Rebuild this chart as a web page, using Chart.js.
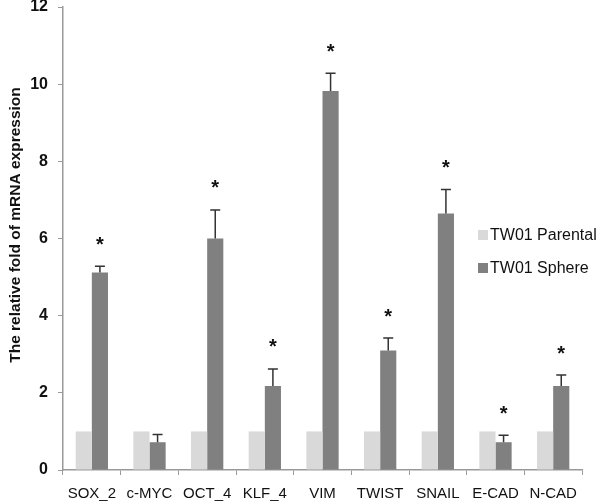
<!DOCTYPE html>
<html><head><meta charset="utf-8">
<script src="https://cdn.jsdelivr.net/npm/chart.js@4/dist/chart.umd.min.js"></script>
<style>html,body{margin:0;padding:0;background:#fff}#wrap{width:600px;height:504px}</style>
</head><body><div id="wrap"><canvas id="c" width="600" height="504"></canvas></div>
<script>
const categories = ["SOX_2","c-MYC","OCT_4","KLF_4","VIM","TWIST","SNAIL","E-CAD","N-CAD"];
const parental = [1,1,1,1,1,1,1,1,1];
const sphere = [5.12,0.72,6.0,2.18,9.82,3.1,6.65,0.72,2.18];
const sphereErrTop = [5.28,0.92,6.74,2.62,10.28,3.42,7.27,0.9,2.46];
const significant = [true,false,true,true,true,true,true,true,true];
const yTicks = [0,2,4,6,8,10,12];
const seriesNames = ["TW01 Parental","TW01 Sphere"];
const yTitle = "The relative fold of mRNA expression";
const FONT = "'Liberation Sans', Arial, sans-serif";

const extras = {
  id:'extras',
  afterDatasetsDraw(chart){
    const ctx = chart.ctx, y = chart.scales.y;
    const meta = chart.getDatasetMeta(1);
    ctx.save();
    meta.data.forEach((bar,i)=>{
      const x = bar.x, yt = y.getPixelForValue(sphereErrTop[i]);
      ctx.strokeStyle = '#333'; ctx.lineWidth = 1.5;
      ctx.beginPath(); ctx.moveTo(x, bar.y); ctx.lineTo(x, yt);
      ctx.moveTo(x-5, yt); ctx.lineTo(x+5, yt); ctx.stroke();
      if(significant[i]){
        ctx.fillStyle = '#111'; ctx.font = "bold 20px " + FONT;
        ctx.textAlign='center'; ctx.textBaseline='middle';
        ctx.fillText('*', x, yt - 21);
      }
    });
    // legend
    const lx = 478, ly = [235, 268];
    ctx.font = "16px " + FONT; ctx.textAlign='left'; ctx.textBaseline='middle';
    chart.data.datasets.forEach((d,k)=>{
      ctx.fillStyle = d.backgroundColor; ctx.fillRect(lx, ly[k]-5, 10, 10);
      ctx.fillStyle = '#111'; ctx.fillText(d.label, lx+12, ly[k]+1);
    });
    // y axis title
    ctx.translate(16, 225); ctx.rotate(-Math.PI/2);
    ctx.font = "bold 15.5px " + FONT; ctx.textAlign='center'; ctx.textBaseline='middle';
    ctx.fillStyle = '#111'; ctx.fillText(yTitle, 0, 0);
    ctx.restore();
  }
};

new Chart(document.getElementById('c'), {
  type:'bar',
  data:{ labels: categories, datasets:[
    {label: seriesNames[0], data: parental, backgroundColor:'#d9d9d9'},
    {label: seriesNames[1], data: sphere, backgroundColor:'#808080'}
  ]},
  options:{
    responsive:false, animation:false,
    layout:{padding:{top:7,right:18,bottom:0,left:0}},
    datasets:{bar:{categoryPercentage:0.56, barPercentage:1.0}},
    plugins:{legend:{display:false}, tooltip:{enabled:false}},
    scales:{
      x:{
        grid:{display:true, drawOnChartArea:false, drawTicks:true, tickLength:5, color:'#999', offset:true},
        border:{color:'#999', width:1.5},
        ticks:{color:'#111', font:{family:FONT, size:15}, padding:10, maxRotation:0},
        afterFit(s){ s.height = 34; s.paddingLeft = 0; s.paddingRight = 0; }
      },
      y:{
        min:0, max:12,
        afterBuildTicks(s){ s.ticks = yTicks.map(v=>({value:v})); },
        grid:{display:true, drawOnChartArea:false, drawTicks:true, tickLength:5, color:'#999'},
        border:{color:'#999', width:1.5},
        ticks:{color:'#111', font:{family:FONT, size:16, weight:'bold'}, padding:10},
        afterFit(s){ s.width = 63; s.paddingTop = 0; s.paddingBottom = 0; }
      }
    }
  },
  plugins:[extras]
});
</script></body></html>
